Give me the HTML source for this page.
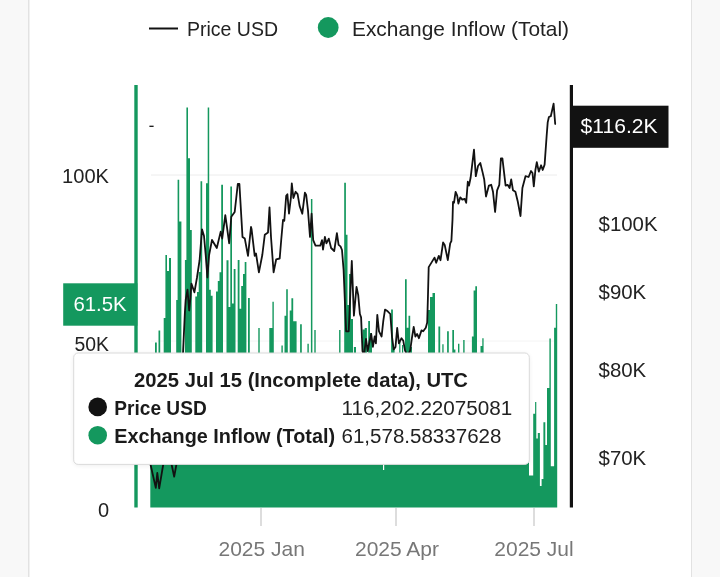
<!DOCTYPE html>
<html lang="en">
<head>
<meta charset="utf-8">
<title>Exchange Inflow (Total) - Price USD</title>
<style>
html,body{margin:0;padding:0;background:#f8f8f8;}
body{width:720px;height:577px;overflow:hidden;position:relative;font-family:"Liberation Sans",sans-serif;}
svg{position:absolute;left:0;top:0;display:block}
text{font-family:"Liberation Sans",sans-serif;}
</style>
</head>
<body>
<svg width="720" height="577" viewBox="0 0 720 577">
<defs>
<filter id="sh" x="-5%" y="-10%" width="110%" height="125%"><feGaussianBlur stdDeviation="2"/></filter>
</defs>
<!-- page -->
<rect x="0" y="0" width="720" height="577" fill="#f8f8f8"/>
<rect x="28" y="0" width="664" height="577" fill="#e2e2e2"/>
<rect x="29.5" y="0" width="661.5" height="577" fill="#ffffff"/>

<!-- legend -->
<line x1="149" y1="28.5" x2="178" y2="28.5" stroke="#121212" stroke-width="2"/>
<text x="187" y="35.5" font-size="21" fill="#222" textLength="91" lengthAdjust="spacingAndGlyphs">Price USD</text>
<circle cx="328.2" cy="27.5" r="10.4" fill="#14985e"/>
<text x="352" y="35.5" font-size="21" fill="#222" textLength="217" lengthAdjust="spacingAndGlyphs">Exchange Inflow (Total)</text>

<!-- gridlines -->
<line x1="151" y1="175" x2="557" y2="175" stroke="#ececec" stroke-width="1"/>
<line x1="151" y1="341" x2="557" y2="341" stroke="#f4f4f4" stroke-width="1"/>

<!-- bars -->
<g fill="#14985e">
<path d="M155.0 507.5V342.5H156.8V507.5ZM158.5 507.5V330.4H160.2V507.5ZM163.7 507.5V318.0H165.4V255.0H167.0V271.0H169.0V258.0H171.0V507.5ZM176.2 507.5V300.0H177.6V179.7H179.2V221.5H181.4V507.5ZM184.9 507.5V260.0H186.4V107.6H188.0V158.3H190.0V230.0H191.8V507.5ZM195.3 507.5V296.6H197.0V292.0H198.7V272.0H200.5V181.2H202.2V507.5ZM206.0 507.5V183.3H207.7V107.6H209.2V289.7H210.8V295.7H212.6V507.5ZM216.0 507.5V291.4H217.8V281.0H219.5V272.3H221.2V184.8H223.0V507.5ZM226.5 507.5V260.2H228.5V307.0H230.3V186.4H232.0V303.5H233.7V269.0H235.5V507.5ZM237.7 507.5V260.0H239.5V308.7H241.2V286.0H243.0V274.0H244.7V262.0H246.4V507.5ZM248.0 507.5V298.0H249.8V507.5ZM258.3 507.5V328.0H259.7V507.5ZM269.3 507.5V328.0H272.4V301.8H273.8V507.5ZM281.4 507.5V345.5H282.8V507.5ZM284.5 507.5V315.7H286.2V289.3H287.8V507.5ZM289.7 507.5V310.5H291.4V298.3H293.2V321.2H296.6V507.5ZM300.1 507.5V324.3H301.8V507.5ZM307.4 507.5V343.7H308.8V507.5ZM310.9 507.5V198.9H312.4V507.5ZM314.3 507.5V329.9H315.7V507.5ZM339.1 507.5V329.9H340.5V507.5ZM344.2 507.5V182.8H345.9V234.8H347.5V305.0H349.0V274.0H351.0V319.0H353.0V507.5ZM353.9 507.5V347.0H356.0V507.5ZM362.5 507.5V329.5H364.7V328.0H366.9V507.5ZM368.2 507.5V320.9H370.0V333.0H372.0V507.5ZM391.1 507.5V309.6H392.9V348.6H394.6V507.5ZM399.2 507.5V342.0H400.4V507.5ZM402.0 507.5V345.0H403.2V507.5ZM405.0 507.5V279.3H406.7V327.8H408.5V315.7H410.2V347.0H412.0V507.5ZM428.0 507.5V310.0H430.0V297.0H432.5V293.0H435.0V507.5ZM438.4 507.5V326.4H440.2V507.5ZM442.3 507.5V344.3H443.6V507.5ZM447.1 507.5V331.3H448.8V507.5ZM452.3 507.5V329.9H454.0V349.5H455.4V507.5ZM458.0 507.5V343.7H459.4V507.5ZM463.2 507.5V339.9H464.6V507.5ZM471.9 507.5V336.5H473.6V290.5H475.3V286.2H477.0V507.5ZM480.5 507.5V346.0H482.3V338.2H483.6V507.5ZM529.0 507.5V475.5H533.2V413.8H535.1V402.0H536.3V438.6H537.8V433.0H539.9V486.0H541.6V479.0H543.4V422.3H545.3V445.0H547.0V388.0H549.4V338.5H550.8V466.2H554.1V327.8H555.8V304.0H557.2V507.5ZM150.3 507.5V400H529V507.5Z"/>
</g>
<rect x="383" y="460" width="1.2" height="10" fill="#fff"/>

<!-- price line -->
<line x1="149.4" y1="126.3" x2="153.6" y2="126.3" stroke="#121212" stroke-width="1.3"/>
<polyline fill="none" stroke="#121212" stroke-width="1.8" stroke-linejoin="round" stroke-linecap="round" points="150.4,464 155.8,487.9 157.3,472.9 159.2,488.3 163.3,464 165,458 168,462 170,460 171.7,465 174.2,476.7 176.3,465 178,440 180,400 183.1,351.2 184.9,312.2 185.7,300 187.5,289.7 189.2,310.5 190.4,298.3 191.4,283.6 194.4,292.3 197,277.5 199.6,260.2 202,229.3 204,236 205.7,255 207.4,277.5 209.1,255 212,240 216.8,248 220.7,231.6 222.2,238.6 225.3,215.2 229.2,243.3 231.3,216.8 234.7,212 237.8,184 239.4,184 242.5,237 244.8,238.6 248,255.8 251,227 251.6,229.3 254.7,255.8 256,253.5 258.9,272.3 262.3,255 264.8,234.7 268,232.4 269.5,207.4 271,237 273.6,272.3 276.2,259.3 279.7,258.5 281.2,240.2 283,220 284.3,220.7 286.2,195.7 287.4,194.2 289,213.7 290.9,198 291.8,183.3 293.4,198 295.6,191.8 297.6,194.2 299.6,205.9 302.3,213.7 304.9,192.6 306.2,195 308,210.6 310,237 311.6,213.7 313.2,240.2 315.5,245.7 320.2,245.7 322,240.2 323,249.6 324.9,237 326.4,243.3 328.8,238.6 331.1,248 334.2,251 336.9,233.2 338.6,244.9 340.5,246.4 342,250 343.6,270 346.1,331.3 348.7,331.3 351.8,261 353.9,315.7 356.5,287 358.2,294.9 359.9,314 361.1,317.4 362.5,351.2 364,355 366,339 367.7,351 369.5,341.7 371.2,333.9 372.9,346.9 374.7,336.5 375.9,343.4 377.3,314.8 379,331.3 381.6,336.5 383.3,320.9 385,309.6 387.7,311.3 390.3,314 392,336.5 393.7,349.5 395.5,346.9 397.2,327.8 398.9,343.4 401.5,338.2 403.3,340.8 405,350.3 407.6,356 410.2,350.3 411.9,338.2 413.7,327 415.4,336.5 417.1,333.9 418.9,338.2 421.5,330.4 423.2,331.3 425.8,327.8 427.2,322.6 427.9,298.3 428.7,267.1 431.9,261.9 434.5,257.6 436.2,262.8 438.8,255.9 440.5,260.2 443.1,242.5 444.7,244.9 447.8,260 450.2,243.3 451.4,241 452.5,219.9 453,202 454,202.8 455.6,191.8 457.2,195.7 458.4,203.5 460.3,197.3 462.3,199.6 464.7,198.9 466.2,202.8 467.8,181.7 469,185.6 470.6,177.8 474,149.7 475.8,176.2 478,166 480.3,163 482.6,172.4 484.2,179.4 486,196.5 488.9,185.6 491.2,184.8 493,191.8 495.1,212 497.1,190.3 499.3,184.8 500.9,158.3 502.4,158.3 505.6,185.6 507.6,184.8 509.6,188 511.2,179.4 513,190.3 515.4,191.8 517.7,201.2 520.5,216 522.4,188 525.5,176.2 528.6,177 531,171 532.5,173 533.8,186.4 535.4,170 536.8,162.2 538.8,171.6 541.1,165.3 542.7,170 544.6,164.6 546.6,136.5 547.7,122.4 548.9,117 550.8,116.2 553.6,103.7 555.2,124"/>

<!-- left axis -->
<rect x="134.3" y="85" width="3.4" height="422.5" fill="#14985e"/>
<text x="62" y="182.8" font-size="20" fill="#222" textLength="47" lengthAdjust="spacingAndGlyphs">100K</text>
<text x="74.5" y="350.8" font-size="20" fill="#222" textLength="34.5" lengthAdjust="spacingAndGlyphs">50K</text>
<text x="109" y="517" font-size="20" text-anchor="end" fill="#222">0</text>
<rect x="63.2" y="283.3" width="74.2" height="42.4" fill="#14985e"/>
<text x="73.4" y="311" font-size="20.4" fill="#ffffff">61.5K</text>

<!-- right axis -->
<rect x="569.8" y="85" width="3.2" height="422.5" fill="#121212"/>
<rect x="570" y="105.7" width="98.5" height="42.1" fill="#121212"/>
<text x="580.6" y="132.7" font-size="20.6" fill="#ffffff" textLength="77" lengthAdjust="spacingAndGlyphs">$116.2K</text>
<text x="598.6" y="231.3" font-size="20.4" fill="#222">$100K</text>
<text x="598.6" y="299.2" font-size="20.4" fill="#222">$90K</text>
<text x="598.6" y="377.2" font-size="20.4" fill="#222">$80K</text>
<text x="598.6" y="465" font-size="20.4" fill="#222">$70K</text>

<!-- x axis -->
<g stroke="#cfcfcf" stroke-width="1.4">
<line x1="261" y1="508" x2="261" y2="526"/>
<line x1="396" y1="508" x2="396" y2="526"/>
<line x1="534" y1="508" x2="534" y2="526"/>
</g>
<g font-size="21" fill="#777" text-anchor="middle">
<text x="261.7" y="556">2025 Jan</text>
<text x="397" y="556">2025 Apr</text>
<text x="534" y="556">2025 Jul</text>
</g>

<!-- tooltip -->
<rect x="73" y="353" width="457" height="113" rx="6" fill="#000" opacity="0.06" filter="url(#sh)"/>
<rect x="73.7" y="353" width="455.6" height="111.4" rx="4.5" fill="#ffffff" stroke="#dadada" stroke-width="1"/>
<text x="134" y="386.5" font-size="20" font-weight="bold" fill="#1a1a1a" textLength="334" lengthAdjust="spacingAndGlyphs">2025 Jul 15 (Incomplete data), UTC</text>
<circle cx="97.7" cy="406.9" r="9.3" fill="#121212"/>
<text x="114.3" y="414.6" font-size="20" font-weight="bold" fill="#1a1a1a" textLength="92.4" lengthAdjust="spacingAndGlyphs">Price USD</text>
<text x="341.5" y="415" font-size="20" fill="#222" textLength="170.8" lengthAdjust="spacingAndGlyphs">116,202.22075081</text>
<circle cx="97.7" cy="435.2" r="9.3" fill="#14985e"/>
<text x="114.3" y="442.8" font-size="20" font-weight="bold" fill="#1a1a1a" textLength="220.7" lengthAdjust="spacingAndGlyphs">Exchange Inflow (Total)</text>
<text x="341.5" y="443" font-size="20" fill="#222" textLength="159.9" lengthAdjust="spacingAndGlyphs">61,578.58337628</text>
</svg>
</body>
</html>
